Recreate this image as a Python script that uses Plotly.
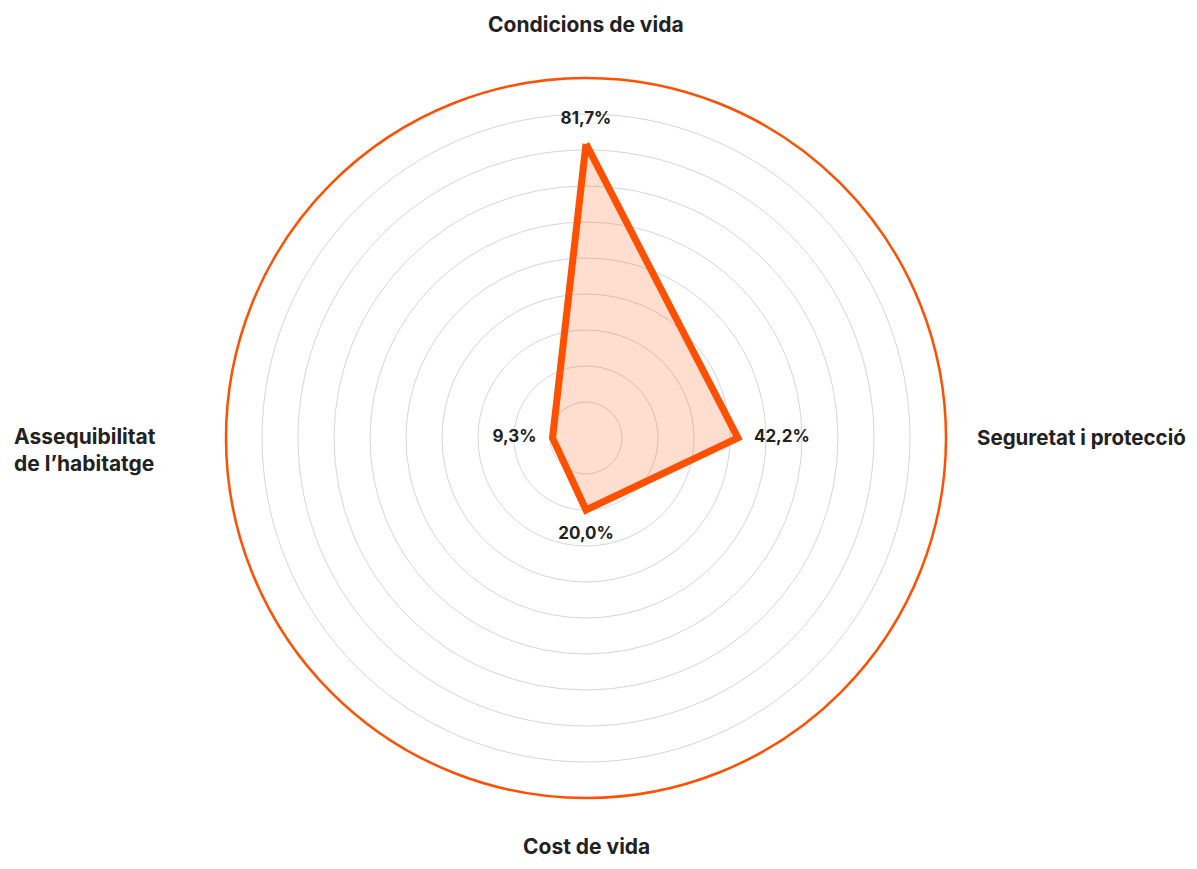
import plotly.graph_objects as go

categories = ["Condicions de vida", "Seguretat i protecció", "Cost de vida", "Assequibilitat de l’habitatge"]
values = [81.7, 42.2, 20.0, 9.3]
value_labels = ["81,7%", "42,2%", "20,0%", "9,3%"]
label_positions = ["top center", "middle right", "bottom center", "middle left"]

# page body has an 8px margin; work in figure pixels
OFF = 8
W, H = 1197 - 2 * OFF, 869 - 2 * OFF
cx, cy, R = 586 - OFF, 438 - OFF, 360


def px(x):
    return (x - OFF) / W


def py(y):
    return 1 - (y - OFF) / H


theta = categories + [categories[0]]
r = values + [values[0]]

fig = go.Figure()
fig.add_trace(go.Scatterpolar(
    r=r, theta=theta, mode="lines",
    fill="toself", fillcolor="rgba(255,90,20,0.2)",
    line=dict(color="#FF5000", width=7),
    hoverinfo="skip", showlegend=False,
))
fig.add_trace(go.Scatterpolar(
    r=values, theta=categories, mode="markers+text",
    marker=dict(size=24, color="rgba(0,0,0,0)"),
    text=value_labels, textposition=label_positions,
    textfont=dict(family="Inter", size=17, color="#222222", weight=700),
    showlegend=False, hoverinfo="skip",
))

fig.update_layout(
    width=W, height=H,
    margin=dict(l=0, r=0, t=0, b=0),
    paper_bgcolor="white", plot_bgcolor="white",
    font=dict(family="Inter", color="#222222"),
    polar=dict(
        domain=dict(x=[(cx - R) / W, (cx + R) / W], y=[(H - cy - R) / H, (H - cy + R) / H]),
        bgcolor="white",
        radialaxis=dict(range=[0, 100], dtick=10, showline=False, showticklabels=False,
                        ticks="", gridcolor="#d6d6d6", gridwidth=1),
        angularaxis=dict(direction="clockwise", rotation=90, showgrid=False,
                         showticklabels=False, ticks="", showline=True,
                         linecolor="#FF5000", linewidth=2.5),
    ),
)

lab_font = dict(family="Inter", size=21, color="#222222", weight=700)
fig.add_annotation(x=px(586), y=py(25), xref="paper", yref="paper", text=categories[0],
                   showarrow=False, xanchor="center", yanchor="middle", font=lab_font)
fig.add_annotation(x=px(975), y=py(437), xref="paper", yref="paper", text=categories[1],
                   showarrow=False, xanchor="left", yanchor="middle",
                   font=dict(lab_font, size=20.5))
fig.add_annotation(x=px(586), y=py(846), xref="paper", yref="paper", text=categories[2],
                   showarrow=False, xanchor="center", yanchor="middle", font=lab_font)
fig.add_annotation(x=px(12), y=py(450), xref="paper", yref="paper",
                   text="Assequibilitat<br>de l’habitatge", align="left",
                   showarrow=False, xanchor="left", yanchor="middle", font=lab_font)

fig.write_html("out.html")
